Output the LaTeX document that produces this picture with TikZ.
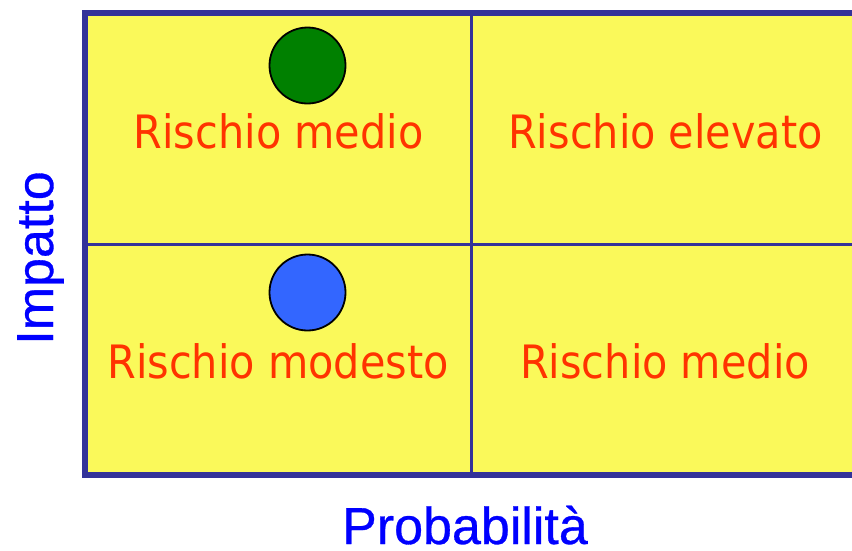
\documentclass[tikz,border=0pt]{standalone}
\usepackage{fontspec}
\newfontfamily\riskfont[FakeStretch=0.9]{DejaVu Sans}
\newfontfamily\axisfont[FakeBold=0.6]{Liberation Sans}

\definecolor{gridfill}{RGB}{250,249,90}
\definecolor{gridline}{RGB}{51,51,153}
\definecolor{risktext}{RGB}{255,51,0}
\definecolor{axistext}{RGB}{0,0,255}
\definecolor{dotgreen}{RGB}{0,128,0}
\definecolor{dotblue}{RGB}{51,102,255}

\tikzset{
  risk/.style={anchor=base, inner sep=0pt, text=risktext,
    font=\riskfont\fontsize{46}{50}\selectfont},
  axis/.style={anchor=base, inner sep=0pt, text=axistext,
    font=\axisfont\fontsize{52}{56}\selectfont},
  dot/.style={circle, draw=black, line width=1.8pt, minimum size=76pt, inner sep=0pt}
}

\begin{document}
\begin{tikzpicture}[x=1pt, y=-1pt]

  \def\gridl{85}
  \def\gridt{13}
  \def\cellw{386.5}
  \def\cellh{231}

  \useasboundingbox (0,0) rectangle (852,550);
  \clip (0,0) rectangle (852,550);

  % the four cells
  \fill[gridfill] (\gridl,\gridt) rectangle ({\gridl+2*\cellw},{\gridt+2*\cellh});
  \draw[gridline, line width=3pt] ({\gridl+\cellw},\gridt) -- ({\gridl+\cellw},{\gridt+2*\cellh});
  \draw[gridline, line width=3pt] (\gridl,{\gridt+\cellh}) -- ({\gridl+2*\cellw},{\gridt+\cellh});
  \draw[gridline, line width=6pt] (\gridl,\gridt) rectangle ({\gridl+2*\cellw},{\gridt+2*\cellh});

  \node[risk] (medioalto) at (278.5,148) {Rischio medio};
  \node[risk] (elevato) at (665.5,148) {Rischio elevato};
  \node[risk] (modesto) at (278,378) {Rischio modesto};
  \node[risk] (mediobasso) at (665,378) {Rischio medio};

  \node[dot, fill=dotgreen] (rischioa) at (307.5,65.5) {};
  \node[dot, fill=dotblue] (rischiob) at (307.5,292.5) {};

  % axes
  \node[axis, rotate=90] (impatto) at (53,258) {Impatto};
  \node[axis] (probabilita) at (465,544) {Probabilità};

\end{tikzpicture}
\end{document}
